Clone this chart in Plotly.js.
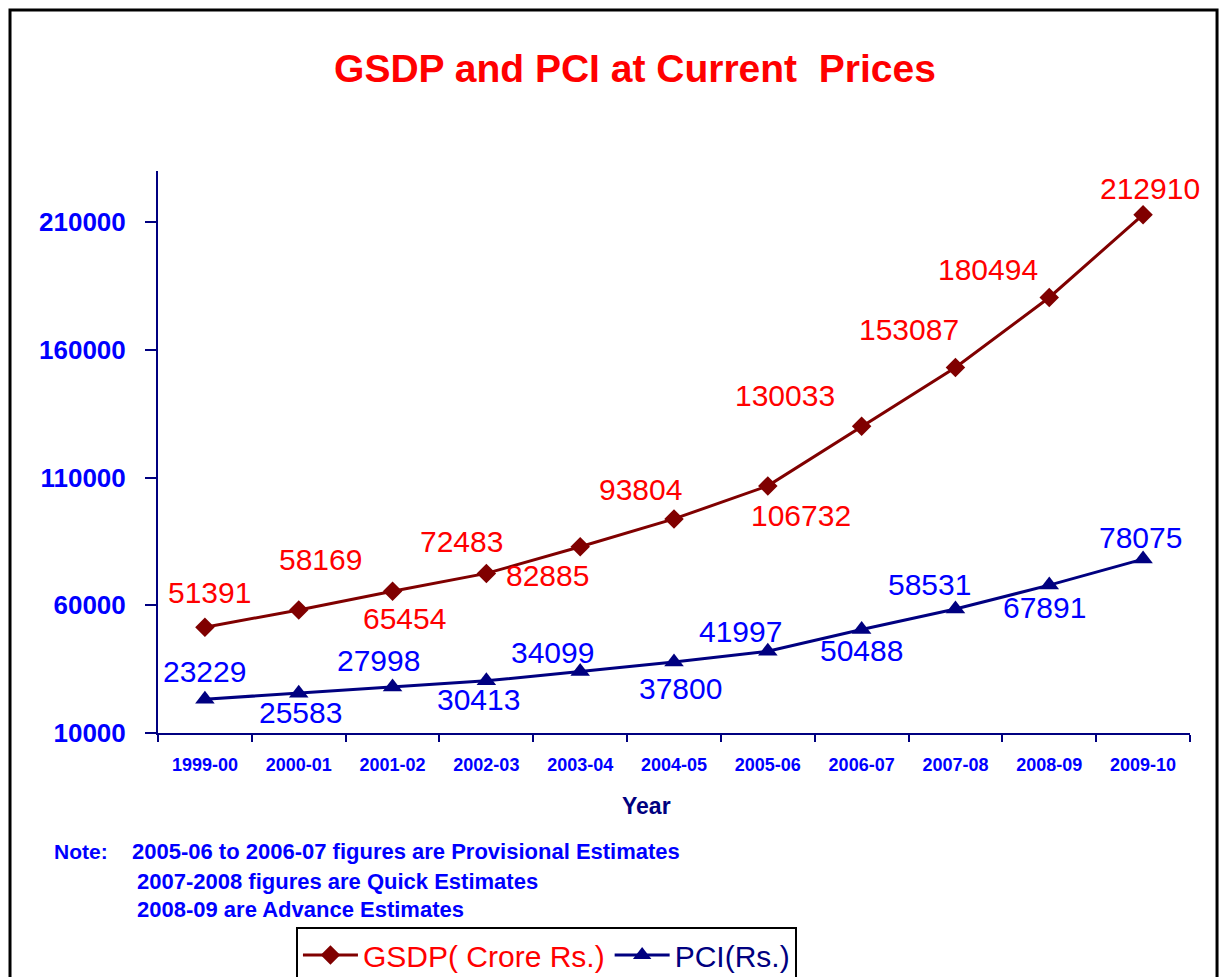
<!DOCTYPE html>
<html><head><meta charset="utf-8">
<script src="https://cdn.plot.ly/plotly-3.0.1.min.js"></script>
<style>html,body{margin:0;padding:0;background:#fff;}#chart{width:1227px;height:977px;}</style>
</head><body><div id="chart"></div>
<script>
const years = ['1999-00','2000-01','2001-02','2002-03','2003-04','2004-05','2005-06','2006-07','2007-08','2008-09','2009-10'];
const gsdp = [51391,58169,65454,72483,82885,93804,106732,130033,153087,180494,212910];
const pci = [23229,25583,27998,30413,34099,37800,41997,50488,58531,67891,78075];
const yTicks = [10000,60000,110000,160000,210000];
const noteLines = ['2005-06 to 2006-07 figures are Provisional Estimates','2007-2008 figures are Quick Estimates','2008-09 are Advance Estimates'];

// label offsets in pixels [dx, dy(up)]
const gsdpShift = [[5,35],[22,50],[12,-27],[-25,32],[-33,-29],[-34,29],[33,-30],[-77,31],[-46,38],[-61,28],[7,26]];
const pciShift = [[0,28],[2,-19],[-14,27],[-8,-19],[-28,19],[6,-27],[-27,20],[0,-21],[-26,25],[-5,-22],[-3,22]];

const FONT = 'Liberation Sans, Arial, sans-serif';

const traces = [
  {x: years, y: gsdp, type: 'scatter', mode: 'lines+markers',
   name: '<span style="color:#FF0000">GSDP( Crore Rs.)</span>',
   line: {color: '#800000', width: 3},
   marker: {symbol: 'diamond', size: 15, color: '#800000'}},
  {x: years, y: pci, type: 'scatter', mode: 'lines+markers',
   name: '<span style="color:#000080">PCI(Rs.)</span>',
   line: {color: '#000080', width: 3},
   marker: {symbol: 'triangle-up', size: 17, color: '#000080'}}
];

const annotations = [];
years.forEach((yr, i) => {
  annotations.push({x: yr, y: gsdp[i], xref: 'x', yref: 'y', text: String(gsdp[i]), showarrow: false,
    xshift: gsdpShift[i][0], yshift: gsdpShift[i][1], xanchor: 'center', yanchor: 'middle',
    font: {family: FONT, size: 30, color: '#FF0000'}});
  annotations.push({x: yr, y: pci[i], xref: 'x', yref: 'y', text: String(pci[i]), showarrow: false,
    xshift: pciShift[i][0], yshift: pciShift[i][1], xanchor: 'center', yanchor: 'middle',
    font: {family: FONT, size: 30, color: '#0000FF'}});
});
annotations.push({xref: 'paper', yref: 'paper', x: 0.473, y: -0.130, text: 'Year', showarrow: false,
  xanchor: 'center', yanchor: 'middle', font: {family: FONT, size: 23, color: '#000080', weight: 'bold'}});
annotations.push({xref: 'paper', yref: 'paper', x: -0.1027, y: -0.2117, text: 'Note:', showarrow: false,
  xanchor: 'left', yanchor: 'middle', font: {family: FONT, size: 21, color: '#0000FF', weight: 'bold'}});
const noteX = [-0.0271, -0.0223, -0.0223];
const noteY = [-0.2117, -0.2651, -0.3132];
noteLines.forEach((t, i) => {
  annotations.push({xref: 'paper', yref: 'paper', x: noteX[i], y: noteY[i], text: t, showarrow: false,
    xanchor: 'left', yanchor: 'middle', font: {family: FONT, size: 22, color: '#0000FF', weight: 'bold'}});
});

const layout = {
  width: 1227, height: 977,
  margin: {l: 158, r: 37, t: 171, b: 244},
  paper_bgcolor: '#FFFFFF', plot_bgcolor: '#FFFFFF',
  title: {text: 'GSDP and PCI at Current \u00a0Prices', x: 0.5175, xref: 'container', xanchor: 'center',
    y: 0.930, yref: 'container', yanchor: 'middle',
    font: {family: FONT, size: 39, color: '#FF0000', weight: 'bold'}},
  xaxis: {type: 'category', range: [-0.5, 10.5], showgrid: false, zeroline: false,
    showline: true, linecolor: '#000080', linewidth: 2,
    ticks: 'outside', tickson: 'boundaries', ticklen: 7, tickcolor: '#000080', tickwidth: 2,
    ticklabelstandoff: 14,
    tickfont: {family: FONT, size: 18, color: '#0000FF', weight: 'bold'}},
  yaxis: {range: [10000, 230000], tickvals: yTicks, ticktext: yTicks.map(String),
    showgrid: false, zeroline: false, showline: true, linecolor: '#000080', linewidth: 2,
    ticks: 'outside', ticklen: 11, tickcolor: '#000080', tickwidth: 2, ticklabelstandoff: 14,
    tickfont: {family: FONT, size: 26, color: '#0000FF', weight: 'bold'}},
  showlegend: true,
  legend: {orientation: 'h', xref: 'container', yref: 'container', x: 0.2412, y: 0.0512,
    xanchor: 'left', yanchor: 'top',
    bordercolor: '#000000', borderwidth: 2, bgcolor: '#FFFFFF', itemwidth: 55,
    font: {family: FONT, size: 30, color: '#000000'}},
  shapes: [{type: 'rect', xref: 'paper', yref: 'paper', x0: -0.1434, x1: 1.0262, y0: -0.6, y1: 1.2865,
    line: {color: '#000000', width: 3}, layer: 'below'}],
  annotations: annotations
};

Plotly.newPlot('chart', traces, layout, {displayModeBar: false, staticPlot: true});
</script></body></html>
